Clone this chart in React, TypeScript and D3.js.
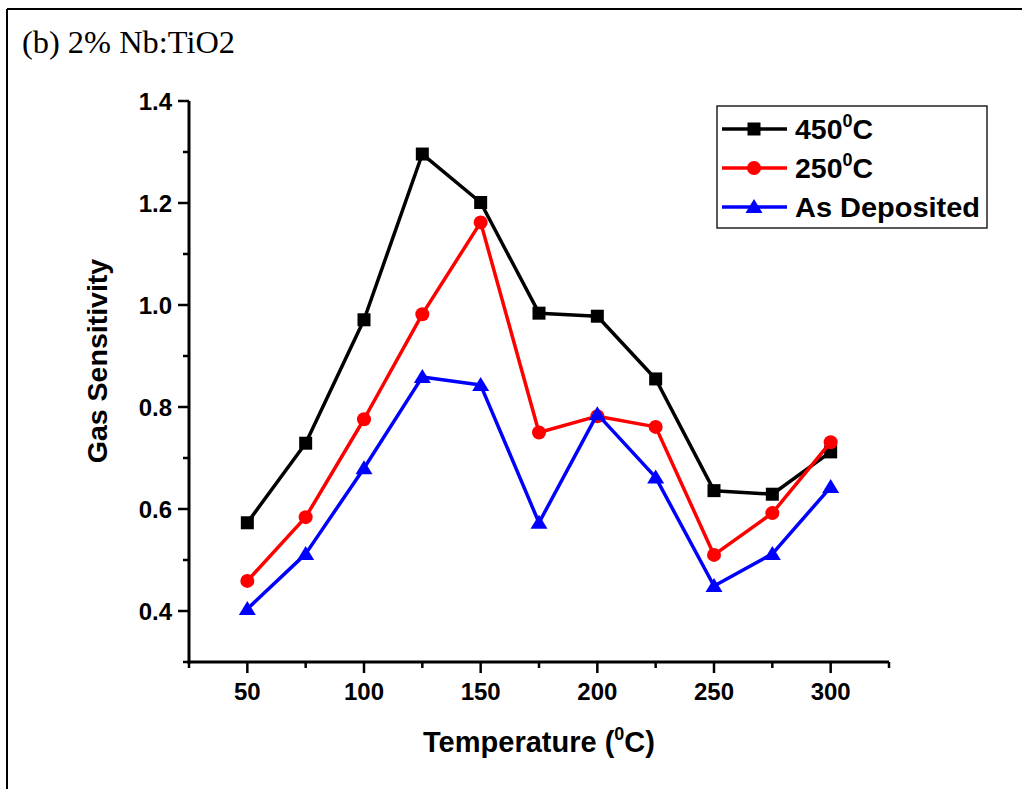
import React from "react";
import * as d3 from "d3";

const temperatures = [50, 75, 100, 125, 150, 175, 200, 225, 250, 275, 300];
const s450 = [0.573, 0.729, 0.971, 1.296, 1.201, 0.984, 0.978, 0.855, 0.636, 0.629, 0.712];
const s250 = [0.459, 0.584, 0.776, 0.982, 1.162, 0.75, 0.782, 0.761, 0.51, 0.592, 0.731];
const sAsDep = [0.404, 0.512, 0.68, 0.859, 0.843, 0.573, 0.786, 0.662, 0.449, 0.512, 0.643];
const xMajorTicks = [50, 100, 150, 200, 250, 300];
const xMinorTicks = [25, 75, 125, 175, 225, 275, 325];
const yMajorTicks = [0.4, 0.6, 0.8, 1.0, 1.2, 1.4];
const yMinorTicks = [0.3, 0.5, 0.7, 0.9, 1.1, 1.3];
const seriesNames = ["450", "250", "As Deposited"];

const W = 1022;
const H = 789;
const FONT = "Arial, 'Liberation Sans', sans-serif";

export default function App() {
  const x = d3.scaleLinear().domain([25, 325]).range([189, 889]);
  const y = d3.scaleLinear().domain([0.3, 1.4]).range([662, 101]);

  const series = [
    { name: seriesNames[0], values: s450, color: "#000000", marker: "square" },
    { name: seriesNames[1], values: s250, color: "#ff0000", marker: "circle" },
    { name: seriesNames[2], values: sAsDep, color: "#0000ff", marker: "triangle" },
  ];

  const line = d3
    .line<number>()
    .x((_, i) => x(temperatures[i]))
    .y((d) => y(d));

  const marker = (type: string, cx: number, cy: number, color: string, key: string) => {
    if (type === "square")
      return <rect key={key} x={cx - 6.5} y={cy - 6.5} width={13} height={13} fill={color} />;
    if (type === "circle") return <circle key={key} cx={cx} cy={cy} r={7} fill={color} />;
    return (
      <path
        key={key}
        d={`M${cx},${cy - 8} L${cx + 8.5},${cy + 6} L${cx - 8.5},${cy + 6} Z`}
        fill={color}
      />
    );
  };

  const x0 = x.range()[0];
  const yBottom = y.range()[0];

  return (
    <svg
      width={W}
      height={H}
      style={{ position: "absolute", left: 0, top: 0, background: "#fff" }}
    >
      <rect x={0} y={0} width={W} height={H} fill="#fff" />
      {/* outer frame (clipped on right/bottom) */}
      <line x1={7} y1={9} x2={W} y2={9} stroke="#000" strokeWidth={2} />
      <line x1={7} y1={9} x2={7} y2={H} stroke="#000" strokeWidth={2} />

      <text
        x={22}
        y={53}
        fontFamily="'Times New Roman', 'Liberation Serif', serif"
        fontSize={31}
        textLength={213}
        lengthAdjust="spacingAndGlyphs"
      >
        (b) 2% Nb:TiO2
      </text>

      {/* axes */}
      <line x1={x0} y1={y(1.4)} x2={x0} y2={yBottom + 1.5} stroke="#000" strokeWidth={3} />
      <line x1={x0 - 1.5} y1={yBottom} x2={x.range()[1]} y2={yBottom} stroke="#000" strokeWidth={3} />

      {yMajorTicks.map((t) => (
        <g key={"ym" + t}>
          <line x1={x0 - 11} x2={x0} y1={y(t)} y2={y(t)} stroke="#000" strokeWidth={2.5} />
          <text
            x={x0 - 17}
            y={y(t) + 9}
            textAnchor="end"
            fontFamily={FONT}
            fontWeight="bold"
            fontSize={24}
          >
            {t.toFixed(1)}
          </text>
        </g>
      ))}
      {yMinorTicks.map((t) => (
        <line key={"yn" + t} x1={x0 - 6} x2={x0} y1={y(t)} y2={y(t)} stroke="#000" strokeWidth={2.5} />
      ))}
      {xMajorTicks.map((t) => (
        <g key={"xm" + t}>
          <line x1={x(t)} x2={x(t)} y1={yBottom} y2={yBottom + 11} stroke="#000" strokeWidth={2.5} />
          <text
            x={x(t)}
            y={yBottom + 38}
            textAnchor="middle"
            fontFamily={FONT}
            fontWeight="bold"
            fontSize={24}
          >
            {t}
          </text>
        </g>
      ))}
      {xMinorTicks.map((t) => (
        <line key={"xn" + t} x1={x(t)} x2={x(t)} y1={yBottom} y2={yBottom + 6} stroke="#000" strokeWidth={2.5} />
      ))}

      {/* axis titles */}
      <text
        x={539}
        y={752}
        textAnchor="middle"
        fontFamily={FONT}
        fontWeight="bold"
        fontSize={29}
      >
        Temperature (<tspan fontSize={18} dy={-12}>0</tspan>
        <tspan dy={12}>C)</tspan>
      </text>
      <text
        transform={`translate(107,361) rotate(-90)`}
        textAnchor="middle"
        fontFamily={FONT}
        fontWeight="bold"
        fontSize={28.5}
      >
        Gas Sensitivity
      </text>

      {/* series */}
      {series.map((s) => (
        <g key={s.name}>
          <path d={line(s.values) || ""} fill="none" stroke={s.color} strokeWidth={3.5} strokeLinejoin="round" />
          {s.values.map((v, i) => marker(s.marker, x(temperatures[i]), y(v), s.color, s.name + i))}
        </g>
      ))}

      {/* legend */}
      <rect x={717} y={106} width={270} height={122} fill="#fff" stroke="#222" strokeWidth={1.5} />
      {series.map((s, i) => {
        const ly = 129 + i * 39;
        return (
          <g key={"lg" + s.name}>
            <line x1={722} x2={787} y1={ly} y2={ly} stroke={s.color} strokeWidth={3.5} />
            {marker(s.marker, 754, ly, s.color, "lm" + i)}
            {i < 2 ? (
              <text x={795} y={ly + 10} fontFamily={FONT} fontWeight="bold" fontSize={28.5}>
                {s.name}
                <tspan fontSize={18} dy={-12}>0</tspan>
                <tspan dy={12}>C</tspan>
              </text>
            ) : (
              <text
                x={795}
                y={ly + 10}
                fontFamily={FONT}
                fontWeight="bold"
                fontSize={28.5}
                textLength={185}
                lengthAdjust="spacingAndGlyphs"
              >
                {s.name}
              </text>
            )}
          </g>
        );
      })}
    </svg>
  );
}
